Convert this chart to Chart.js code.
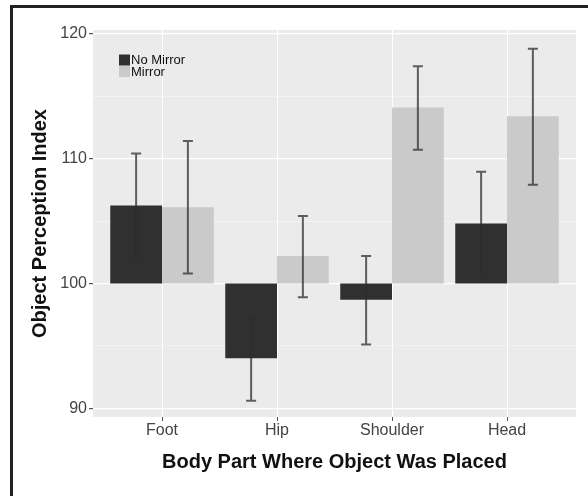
<!DOCTYPE html>
<html>
<head>
<meta charset="utf-8">
<script src="https://cdn.jsdelivr.net/npm/chart.js@4"></script>
<style>
  html, body { margin: 0; padding: 0; background: #fff; }
  canvas { display: block; }
</style>
</head>
<body>
<canvas id="chart" width="588" height="496"></canvas>
<script>
// data
const categories = ['Foot', 'Hip', 'Shoulder', 'Head'];
const baseline = 100;
const noMirror = [106.25, 94.0, 98.7, 104.8];
const mirror = [106.1, 102.2, 114.1, 113.4];
const noMirrorLow = [102.1, 90.6, 95.1, 100.6];
const noMirrorHigh = [110.4, 97.2, 102.2, 108.95];
const mirrorLow = [100.8, 98.9, 110.7, 107.9];
const mirrorHigh = [111.4, 105.4, 117.4, 118.8];
const yTicks = [90, 95, 100, 105, 110, 115, 120];
const yMajor = [90, 100, 110, 120];

const FONT = '"Liberation Sans", Arial, sans-serif';

// grey panel + frame lines
const panelPlugin = {
  id: 'panel',
  beforeDraw(chart) {
    const { ctx, chartArea: a } = chart;
    ctx.save();
    ctx.fillStyle = '#ebebeb';
    ctx.fillRect(a.left, a.top, a.right - a.left, a.bottom - a.top);
    ctx.strokeStyle = '#222';
    ctx.lineWidth = 3;
    ctx.beginPath();
    ctx.moveTo(11.5, 496);
    ctx.lineTo(11.5, 6.5);
    ctx.lineTo(588, 6.5);
    ctx.stroke();
    ctx.restore();
  }
};

// error bars on top of the bars
const errorPlugin = {
  id: 'errorBars',
  afterDatasetsDraw(chart) {
    const { ctx } = chart;
    const y = chart.scales.y;
    ctx.save();
    ctx.strokeStyle = 'rgba(45,45,45,0.75)';
    ctx.lineWidth = 2;
    chart.data.datasets.forEach((ds, di) => {
      const meta = chart.getDatasetMeta(di);
      meta.data.forEach((bar, i) => {
        const x = bar.x;
        const yl = y.getPixelForValue(ds.errLow[i]);
        const yh = y.getPixelForValue(ds.errHigh[i]);
        ctx.beginPath();
        ctx.moveTo(x, yl); ctx.lineTo(x, yh);
        ctx.moveTo(x - 5, yl); ctx.lineTo(x + 5, yl);
        ctx.moveTo(x - 5, yh); ctx.lineTo(x + 5, yh);
        ctx.stroke();
      });
    });
    ctx.restore();
  }
};

// legend inside the panel, top left
const legendPlugin = {
  id: 'insideLegend',
  afterDraw(chart) {
    const { ctx } = chart;
    ctx.save();
    ctx.font = '13px ' + FONT;
    ctx.textBaseline = 'middle';
    chart.data.datasets.forEach((ds, i) => {
      const top = 54.5 + i * 11.5;
      ctx.fillStyle = ds.backgroundColor;
      ctx.fillRect(119, top, 11, 11);
      ctx.fillStyle = '#111';
      ctx.fillText(ds.label, 131, top + 6);
    });
    ctx.restore();
  }
};

new Chart(document.getElementById('chart'), {
  type: 'bar',
  data: {
    datasets: [
      {
        label: 'No Mirror',
        data: noMirror.map((v, i) => ({ x: i, y: [baseline, v] })),
        backgroundColor: '#303030',
        errLow: noMirrorLow,
        errHigh: noMirrorHigh
      },
      {
        label: 'Mirror',
        data: mirror.map((v, i) => ({ x: i, y: [baseline, v] })),
        backgroundColor: '#cacaca',
        errLow: mirrorLow,
        errHigh: mirrorHigh
      }
    ]
  },
  options: {
    responsive: false,
    animation: false,
    layout: { padding: { top: 30, right: 12, left: 0, bottom: 0 } },
    datasets: {
      bar: { categoryPercentage: 0.9, barPercentage: 1.0, borderSkipped: false }
    },
    plugins: {
      legend: { display: false },
      tooltip: { enabled: false }
    },
    scales: {
      x: {
        type: 'linear',
        min: -0.6,
        max: categories.length - 0.4,
        offset: false,
        afterBuildTicks(scale) { scale.ticks = categories.map((c, i) => ({ value: i })); },
        grid: {
          offset: false,
          color: '#ffffff',
          lineWidth: 1,
          tickColor: '#555',
          tickLength: 4
        },
        border: { display: false },
        ticks: {
          color: '#444',
          font: { family: FONT, size: 16 },
          padding: 0,
          autoSkip: false,
          maxRotation: 0,
          callback: v => categories[v]
        },
        title: {
          display: true,
          text: 'Body Part Where Object Was Placed',
          color: '#111',
          font: { family: FONT, size: 20, weight: 'bold' },
          padding: { top: 0, bottom: 22 }
        },
        afterFit(scale) { scale.height = 79; }
      },
      y: {
        min: 89.3,
        max: 120.3,
        afterBuildTicks(scale) { scale.ticks = yTicks.map(v => ({ value: v })); },
        grid: {
          color: ctx => yMajor.includes(ctx.tick && ctx.tick.value) ? '#ffffff' : '#f5f5f5',
          lineWidth: ctx => yMajor.includes(ctx.tick && ctx.tick.value) ? 1.2 : 0.8,
          tickColor: ctx => yMajor.includes(ctx.tick && ctx.tick.value) ? '#555' : 'rgba(0,0,0,0)',
          tickLength: 4
        },
        border: { display: false },
        ticks: {
          color: '#444',
          font: { family: FONT, size: 16 },
          padding: 2,
          autoSkip: false,
          callback: v => yMajor.includes(v) ? String(v) : ''
        },
        title: {
          display: true,
          text: 'Object Perception Index',
          color: '#111',
          font: { family: FONT, size: 20, weight: 'bold' },
          padding: { top: 28, bottom: 0 }
        },
        afterFit(scale) { scale.width = 93; }
      }
    }
  },
  plugins: [panelPlugin, errorPlugin, legendPlugin]
});
</script>
</body>
</html>
